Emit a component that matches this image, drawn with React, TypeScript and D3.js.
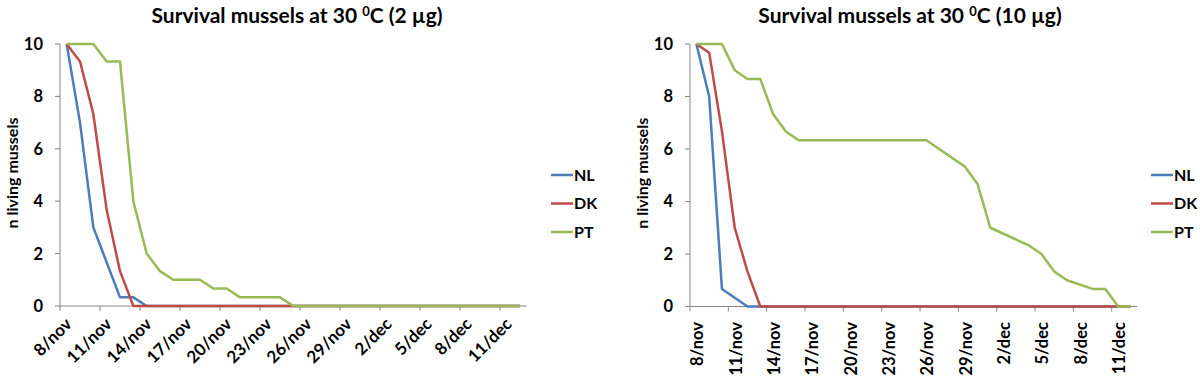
import React from "react";
import * as d3 from "d3";

const tickLabels = ["8/nov", "11/nov", "14/nov", "17/nov", "20/nov", "23/nov", "26/nov", "29/nov", "2/dec", "5/dec", "8/dec", "11/dec"];
const seriesNames = ["NL", "DK", "PT"];
const seriesColors = ["#4A7EBB", "#BE4B48", "#98B954"];
const yTicks = [0, 2, 4, 6, 8, 10];

// day offset from 8/nov, value
const nl2Days = [0, 1, 2, 4, 5, 6, 34];
const nl2Vals = [10, 7, 3, 0.33, 0.33, 0, 0];
const dk2Days = [0, 1, 2, 3, 4, 5, 34];
const dk2Vals = [10, 9.33, 7.33, 3.67, 1.33, 0, 0];
const pt2Days = [0, 2, 3, 4, 5, 6, 7, 8, 10, 11, 12, 13, 16, 17, 34];
const pt2Vals = [10, 10, 9.33, 9.33, 4, 2, 1.33, 1, 1, 0.67, 0.67, 0.33, 0.33, 0, 0];

const nl10Days = [0, 1, 2, 4, 5, 34];
const nl10Vals = [10, 8, 0.67, 0, 0, 0];
const dk10Days = [0, 1, 2, 3, 4, 5, 34];
const dk10Vals = [10, 9.67, 6.67, 3, 1.33, 0, 0];
const pt10Days = [0, 2, 3, 4, 5, 6, 7, 8, 18, 21, 22, 23, 26, 27, 28, 29, 31, 32, 33, 34];
const pt10Vals = [10, 10, 9, 8.67, 8.67, 7.33, 6.67, 6.33, 6.33, 5.33, 4.67, 3, 2.33, 2, 1.33, 1, 0.67, 0.67, 0, 0];

const startDate = new Date(Date.UTC(2012, 10, 8));
const nDays = 35;
const dayMs = 86400000;

const FONT = "Lato, 'Open Sans', sans-serif";

type Cfg = {
  title: string;
  titleX: number;
  x0: number;
  x1: number;
  yTop: number;
  yBot: number;
  labelX: number;
  legendX: number;
  rotate: number;
  series: [number[], number[]][];
};

const charts: Cfg[] = [
  {
    title: "2 µg",
    titleX: 297,
    x0: 60,
    x1: 526.7,
    yTop: 44,
    yBot: 306,
    labelX: 12,
    legendX: 551,
    rotate: -45,
    series: [[nl2Days, nl2Vals], [dk2Days, dk2Vals], [pt2Days, pt2Vals]],
  },
  {
    title: "10 µg",
    titleX: 910,
    x0: 690,
    x1: 1137.3,
    yTop: 44,
    yBot: 306.5,
    labelX: 642,
    legendX: 1151,
    rotate: -90,
    series: [[nl10Days, nl10Vals], [dk10Days, dk10Vals], [pt10Days, pt10Vals]],
  },
];

function Chart({ c }: { c: Cfg }) {
  const x = d3
    .scaleUtc()
    .domain([startDate, new Date(startDate.getTime() + nDays * dayMs)])
    .range([c.x0, c.x1]);
  const y = d3.scaleLinear().domain([0, 10]).range([c.yBot, c.yTop]);
  const dayToDate = (d: number) => new Date(startDate.getTime() + d * dayMs);
  const center = (d: number) => x(new Date(startDate.getTime() + (d + 0.5) * dayMs));
  const tickDates = d3.range(0, 34, 3).map(dayToDate);
  const line = d3
    .line<[number, number]>()
    .x((p) => center(p[0]))
    .y((p) => y(p[1]));
  const legendY = [175, 203.5, 232];
  const midY = (c.yTop + c.yBot) / 2;
  const diag = c.rotate === -45;
  return (
    <g>
      <text x={c.titleX} y={23} textAnchor="middle" fontFamily={FONT} fontWeight="bold" fontSize={21} fill="#000">
        Survival mussels at 30 <tspan fontSize={13} dy={-7}>0</tspan>
        <tspan dy={7}>C ({c.title})</tspan>
      </text>
      <text
        transform={`translate(${c.labelX},${midY - 2}) rotate(-90)`}
        textAnchor="middle"
        dy="0.35em"
        fontFamily={FONT}
        fontWeight="bold"
        fontSize={16}
        fill="#000"
      >
        n living mussels
      </text>
      {/* y axis */}
      <line x1={c.x0} x2={c.x0} y1={c.yTop} y2={c.yBot} stroke="#868686" strokeWidth={1} />
      {yTicks.map((t) => (
        <g key={t}>
          <line x1={c.x0 - 5} x2={c.x0} y1={y(t)} y2={y(t)} stroke="#868686" strokeWidth={1} />
          <text x={c.x0 - 17} y={y(t)} dy="0.36em" textAnchor="end" fontFamily={FONT} fontWeight="bold" fontSize={16.5} fill="#000">
            {t}
          </text>
        </g>
      ))}
      {/* x axis */}
      <line x1={c.x0} x2={c.x1} y1={c.yBot} y2={c.yBot} stroke="#868686" strokeWidth={1} />
      {tickDates.map((d, i) => (
        <g key={i}>
          <line x1={x(d)} x2={x(d)} y1={c.yBot} y2={c.yBot + 5} stroke="#868686" strokeWidth={1} />
          <text
            transform={`translate(${x(new Date(d.getTime() + dayMs / 2)) + (diag ? 2 : 1)},${diag ? 321 : 322}) rotate(${c.rotate})`}
            textAnchor="end"
            dy="0.35em"
            fontFamily={FONT}
            fontWeight="bold"
            fontSize={diag ? 17 : 16.5}
            fill="#000"
          >
            {tickLabels[i]}
          </text>
        </g>
      ))}
      {/* lines */}
      {c.series.map(([days, vals], si) => (
        <path
          key={si}
          d={line(days.map((d, k) => [d, vals[k]] as [number, number])) || ""}
          fill="none"
          stroke={seriesColors[si]}
          strokeWidth={2.5}
          strokeLinejoin="round"
        />
      ))}
      {/* legend */}
      {seriesNames.map((n, i) => (
        <g key={n}>
          <line x1={c.legendX} x2={c.legendX + 22} y1={legendY[i]} y2={legendY[i]} stroke={seriesColors[i]} strokeWidth={2.5} />
          <text x={c.legendX + 23} y={legendY[i]} dy="0.36em" fontFamily={FONT} fontWeight="bold" fontSize={16} fill="#000">
            {n}
          </text>
        </g>
      ))}
    </g>
  );
}

export default function App() {
  return (
    <svg
      width={1200}
      height={376}
      style={{ position: "absolute", left: 0, top: 0, background: "#fff" }}
    >
      <rect x={0} y={0} width={1200} height={376} fill="#fff" />
      {charts.map((c, i) => (
        <Chart key={i} c={c} />
      ))}
    </svg>
  );
}
